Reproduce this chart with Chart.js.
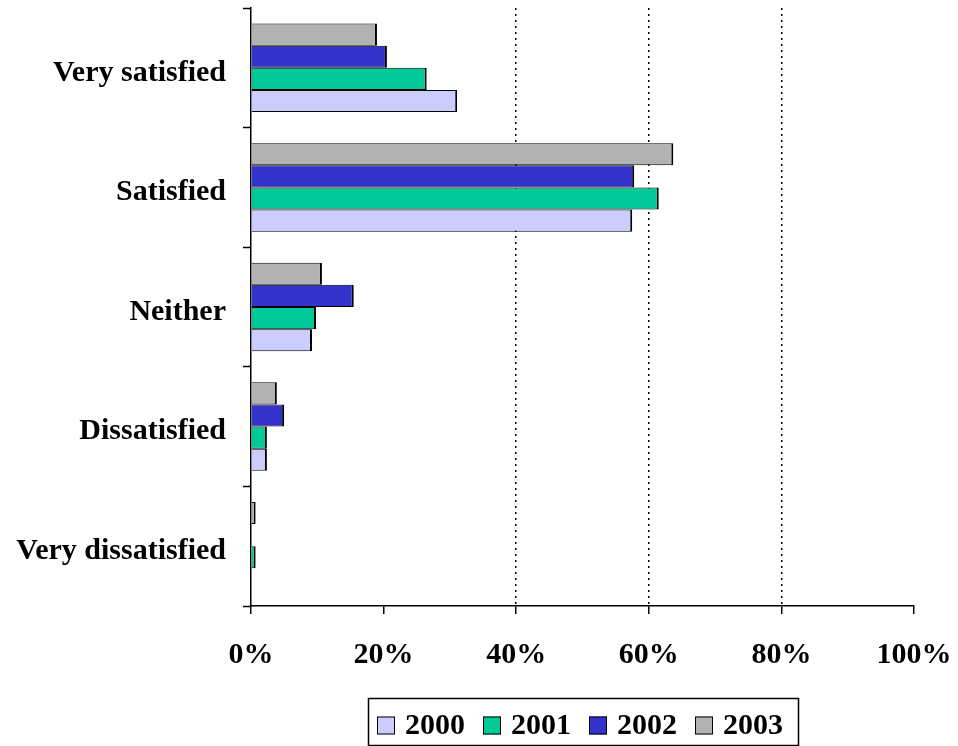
<!DOCTYPE html>
<html>
<head>
<meta charset="utf-8">
<script src="https://cdn.jsdelivr.net/npm/chart.js@4/dist/chart.umd.min.js"></script>
<style>
  html, body { margin: 0; padding: 0; background: #ffffff; }
  #wrap { width: 958px; height: 746px; }
</style>
</head>
<body>
<div id="wrap"><canvas id="chart" width="958" height="746"></canvas></div>
<script>
// Satisfaction answers, share of respondents (%)
const categories = ['Very satisfied', 'Satisfied', 'Neither', 'Dissatisfied', 'Very dissatisfied'];
const years = ['2000', '2001', '2002', '2003'];
const values2000 = [31.1, 57.5, 9.2, 2.4, 0];
const values2001 = [26.5, 61.5, 9.8, 2.4, 0.7];
const values2002 = [20.5, 57.8, 15.5, 5.0, 0];
const values2003 = [19.0, 63.7, 10.7, 3.9, 0.7];
const xTickStep = 20;
const dottedGridAt = [40, 60, 80];

const seriesValues = [values2000, values2001, values2002, values2003];
const seriesColors = ['#CCCCFF', '#00C896', '#3333CC', '#B2B2B2'];

const FONT_FAMILY = '"Liberation Serif", "Times New Roman", serif';
const labelFont = { family: FONT_FAMILY, size: 30, weight: 'bold' };

// Newest year first so it sits at the top of each group
const datasets = years.map((y, i) => ({
  label: y,
  data: seriesValues[i],
  backgroundColor: seriesColors[i],
  borderColor: '#000000',
  borderWidth: { top: 1, bottom: 1, left: 0, right: 2 },
  borderSkipped: false,
  categoryPercentage: 0.74,
  barPercentage: 1.0
})).reverse();

// Boxed legend centred under the plot
const boxedLegend = {
  id: 'boxedLegend',
  afterDraw(chart) {
    const ctx = chart.ctx;
    const area = chart.chartArea;
    ctx.save();
    ctx.font = 'bold 30px ' + FONT_FAMILY;
    const sw = 18, gapText = 10, gapItem = 18, padL = 9, padR = 15;
    const widths = years.map(y => ctx.measureText(y).width);
    const inner = widths.reduce((s, w) => s + sw + gapText + w, 0) + gapItem * (years.length - 1);
    const boxW = inner + padL + padR;
    const cx = (area.left + area.right) / 2;
    const left = Math.round(cx - boxW / 2);
    const top = 698, bottom = 745, mid = 725.5;
    ctx.lineWidth = 1.5;
    ctx.strokeStyle = '#000';
    ctx.strokeRect(left + 0.5, top + 0.5, boxW, bottom - top);
    let x = left + padL;
    ctx.textBaseline = 'middle';
    ctx.textAlign = 'left';
    years.forEach((y, i) => {
      ctx.fillStyle = seriesColors[i];
      ctx.fillRect(x, mid - sw / 2, sw, sw);
      ctx.lineWidth = 1;
      ctx.strokeRect(x + 0.5, mid - sw / 2 + 0.5, sw - 1, sw - 1);
      x += sw + gapText;
      ctx.fillStyle = '#000';
      ctx.fillText(y, x, mid + 1);
      x += widths[i] + gapItem;
    });
    ctx.restore();
  }
};

new Chart(document.getElementById('chart'), {
  type: 'bar',
  data: { labels: categories, datasets },
  options: {
    indexAxis: 'y',
    responsive: false,
    animation: false,
    devicePixelRatio: 1,
    layout: { padding: { top: 8, right: 44, bottom: 70, left: 0 } },
    plugins: {
      legend: { display: false },
      tooltip: { enabled: false }
    },
    scales: {
      y: {
        type: 'category',
        offset: true,
        afterFit(scale) {
          scale.width = 251;
          scale.paddingTop = 0;
          scale.paddingBottom = 0;
        },
        grid: {
          display: true,
          offset: true,
          drawOnChartArea: false,
          drawTicks: true,
          tickLength: 8,
          tickColor: '#000',
          tickWidth: 1.5
        },
        border: { display: true, color: '#000', width: 1.5 },
        ticks: { font: labelFont, color: '#000', padding: 17, labelOffset: 5 }
      },
      x: {
        type: 'linear',
        min: 0,
        max: 100,
        afterFit(scale) {
          scale.height = 70;
          scale.paddingLeft = 0;
          scale.paddingRight = 0;
        },
        grid: {
          display: true,
          drawOnChartArea: true,
          drawTicks: true,
          tickLength: 8,
          tickColor: '#000',
          tickWidth: 1.5,
          lineWidth: 1.5,
          color: ctx => (ctx.tick && dottedGridAt.includes(ctx.tick.value)) ? '#000' : 'rgba(0,0,0,0)'
        },
        border: { display: true, color: '#000', width: 1.5, dash: [2, 4] },
        ticks: {
          stepSize: xTickStep,
          font: labelFont,
          color: '#000',
          padding: 23,
          callback: v => v + '%'
        }
      }
    }
  },
  plugins: [boxedLegend]
});
</script>
</body>
</html>
